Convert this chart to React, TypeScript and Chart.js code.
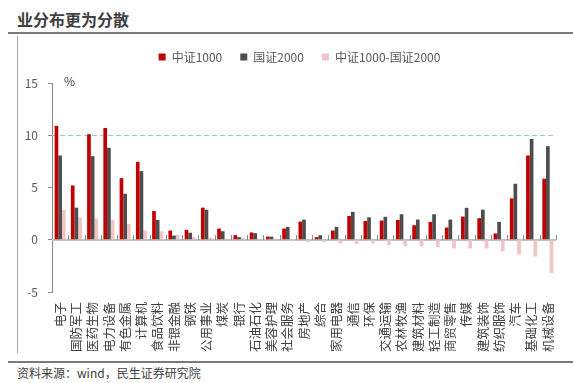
import React, { useEffect, useRef } from "react";
import { Chart, registerables } from "chart.js";

Chart.register(...registerables);

const categories = ["电子", "国防军工", "医药生物", "电力设备", "有色金属", "计算机", "食品饮料", "非银金融", "钢铁", "公用事业", "煤炭", "银行", "石油石化", "美容护理", "社会服务", "房地产", "综合", "家用电器", "通信", "环保", "交通运输", "农林牧渔", "建筑材料", "轻工制造", "商贸零售", "传媒", "建筑装饰", "纺织服饰", "汽车", "基础化工", "机械设备"];
const csi1000 = [10.9, 5.2, 10.1, 10.7, 5.9, 7.45, 2.75, 0.88, 0.95, 3.07, 1.07, 0.44, 0.7, 0.3, 1.07, 1.74, 0.25, 0.88, 2.28, 1.8, 1.84, 1.9, 1.39, 1.71, 1.17, 2.22, 2.06, 0.6, 3.96, 8.06, 5.84];
const cni2000 = [8.06, 3.07, 8.0, 8.8, 4.4, 6.57, 1.9, 0.4, 0.67, 2.88, 0.82, 0.25, 0.63, 0.3, 1.23, 1.93, 0.44, 1.23, 2.67, 2.15, 2.2, 2.44, 1.93, 2.44, 1.93, 3.05, 2.88, 1.71, 5.36, 9.65, 8.95];
const spread = [2.84, 2.13, 2.03, 1.9, 1.52, 0.88, 0.8, 0.48, 0.25, 0.2, 0.12, 0.2, 0.05, 0.0, -0.15, -0.2, -0.2, -0.35, -0.4, -0.35, -0.5, -0.6, -0.6, -0.7, -0.83, -0.83, -0.83, -1.1, -1.4, -1.6, -3.18];
const seriesNames = ["中证1000", "国证2000", "中证1000-国证2000"];
const yTicks = [-5, 0, 5, 10, 15];
const refLineValue = 10;

const FONT = "'Noto Sans CJK SC', 'Noto Sans', sans-serif";

export default function App() {
  const ref = useRef<HTMLCanvasElement | null>(null);

  useEffect(() => {
    if (!ref.current) return;
    Chart.defaults.font.family = FONT;

    const legendSpacer = {
      id: "legendSpacer",
      beforeInit(chart: any) {
        const lg = chart.legend;
        if (!lg) return;
        const orig = lg.fit;
        lg.fit = function () {
          orig.call(lg);
          lg.height += 10;
        };
      },
      afterLayout(chart: any) {
        const lg = chart.legend;
        if (!lg) return;
        lg.left += 7;
        lg.right += 7;
      },
    };

    const axisDecor = {
      id: "axisDecor",
      beforeDatasetsDraw(chart: any) {
        const { ctx, chartArea, scales } = chart;
        const x = scales.x;
        const y = scales.y;
        const y0 = y.getPixelForValue(0);
        const y10 = y.getPixelForValue(refLineValue);
        ctx.save();
        ctx.strokeStyle = "#9dc3e6";
        ctx.lineWidth = 1;
        ctx.setLineDash([5, 3]);
        ctx.beginPath();
        ctx.moveTo(chartArea.left, Math.round(y10) + 0.5);
        ctx.lineTo(chartArea.right, Math.round(y10) + 0.5);
        ctx.stroke();
        ctx.setLineDash([]);
        ctx.strokeStyle = "#c0c0c0";
        ctx.lineWidth = 2;
        ctx.beginPath();
        ctx.moveTo(chartArea.left, Math.round(y0));
        ctx.lineTo(chartArea.right, Math.round(y0));
        ctx.stroke();
        ctx.strokeStyle = "#8c8c8c";
        ctx.lineWidth = 1;
        const n = categories.length;
        const half = (x.getPixelForValue(1) - x.getPixelForValue(0)) / 2;
        for (let i = 0; i < n; i++) {
          const px = Math.round(x.getPixelForValue(i) + half) + 0.5;
          ctx.beginPath();
          ctx.moveTo(px, Math.round(y0) - 5);
          ctx.lineTo(px, Math.round(y0));
          ctx.stroke();
        }
        ctx.restore();
      },
    };

    const chart = new Chart(ref.current, {
      type: "bar",
      data: {
        labels: categories,
        datasets: [
          { label: seriesNames[0], data: csi1000, backgroundColor: "#c00000" },
          { label: seriesNames[1], data: cni2000, backgroundColor: "#4d4d4d" },
          { label: seriesNames[2], data: spread, backgroundColor: "#f0c4c4" },
        ],
      },
      options: {
        animation: false,
        responsive: false,
        maintainAspectRatio: false,
        datasets: { bar: { categoryPercentage: 0.68, barPercentage: 1.0 } },
        layout: { padding: { top: 5, left: 20, right: 8, bottom: 0 } },
        plugins: {
          legend: {
            display: true,
            position: "top",
            labels: {
              boxWidth: 7,
              boxHeight: 7,
              padding: 18,
              color: "#595959",
              font: { size: 12, family: FONT },
            },
          },
          tooltip: { enabled: false },
        },
        scales: {
          x: {
            grid: { display: false, drawTicks: false },
            border: { display: false },
            ticks: {
              autoSkip: false,
              maxRotation: 90,
              minRotation: 90,
              padding: 10,
              color: "#404040",
              font: { size: 12.5, family: FONT },
            },
            afterFit(scale: any) {
              scale.height = 64;
            },
          },
          y: {
            min: -5,
            max: 15,
            afterBuildTicks(scale: any) {
              scale.ticks = yTicks.map((v) => ({ value: v }));
            },
            grid: {
              display: true,
              drawOnChartArea: false,
              drawTicks: true,
              tickLength: 4,
              tickColor: "#898989",
            },
            border: { display: true, color: "#898989", width: 1 },
            ticks: {
              padding: 10,
              color: "#595959",
              font: { size: 12, family: FONT },
            },
            afterFit(scale: any) {
              scale.width = 32;
            },
          },
        },
      },
      plugins: [legendSpacer, axisDecor],
    });
    return () => chart.destroy();
  }, []);

  return (
    <div
      style={{
        position: "fixed",
        left: 0,
        top: 0,
        width: 573,
        height: 383,
        background: "#fff",
        fontFamily: FONT,
        overflow: "hidden",
      }}
    >
      <div
        style={{
          position: "absolute",
          left: 17,
          top: 8,
          fontSize: 16,
          fontWeight: 700,
          color: "#404040",
          lineHeight: "22px",
          whiteSpace: "nowrap",
        }}
      >
        业分布更为分散
      </div>
      <div style={{ position: "absolute", left: 8, top: 32, width: 565, height: 2, background: "#7a7a7a" }} />
      <div style={{ position: "absolute", left: 17, top: 36, width: 1, height: 317, background: "#a6a6a6" }} />
      <div style={{ position: "absolute", left: 8, top: 361, width: 565, height: 2, background: "#7a7a7a" }} />
      <div
        style={{
          position: "absolute",
          left: 17,
          top: 364,
          fontSize: 12,
          color: "#404040",
          lineHeight: "18px",
          whiteSpace: "nowrap",
        }}
      >
        资料来源：wind，民生证券研究院
      </div>
      <canvas
        ref={ref}
        width={573}
        height={328}
        style={{ position: "absolute", left: 0, top: 28, width: 573, height: 328 }}
      />
      <div
        style={{
          position: "absolute",
          left: 64,
          top: 73,
          fontSize: 12,
          color: "#404040",
          lineHeight: "16px",
        }}
      >
        %
      </div>
    </div>
  );
}
